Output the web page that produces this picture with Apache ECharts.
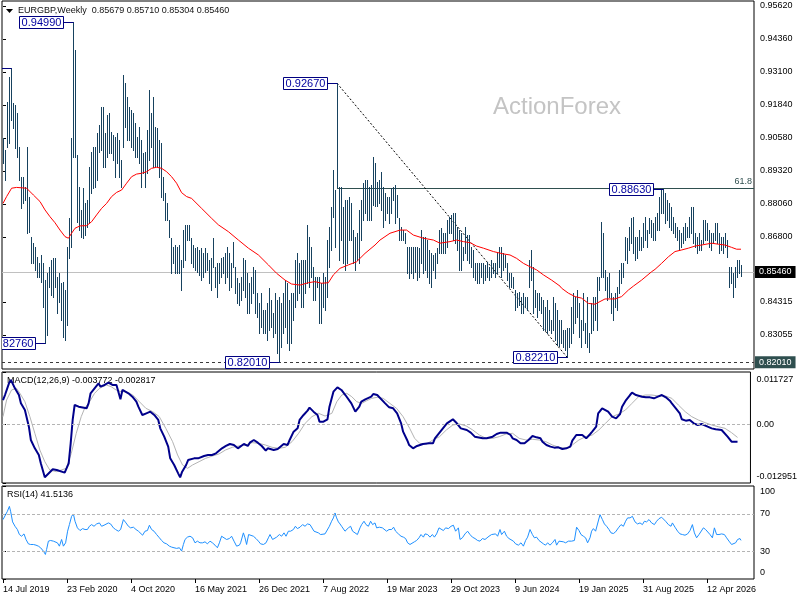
<!DOCTYPE html>
<html><head><meta charset="utf-8">
<script src="https://cdn.jsdelivr.net/npm/echarts@6/dist/echarts.min.js"></script>
<style>html,body{margin:0;padding:0;background:#fff;}#c{width:800px;height:600px;}</style>
</head><body><div id="c"></div>
<script>
// ---------- DATA ----------
const symbolTitle = 'EURGBP,Weekly';
const lastOHLC = [0.85679, 0.85710, 0.85304, 0.85460];
const dateIdx = [0, 32, 64, 96, 128, 160, 192, 224, 256, 288, 320, 352];
const dateLabels = ['14 Jul 2019','23 Feb 2020','4 Oct 2020','16 May 2021','26 Dec 2021','7 Aug 2022','19 Mar 2023','29 Oct 2023','9 Jun 2024','19 Jan 2025','31 Aug 2025','12 Apr 2026'];
const priceTicks = [0.9562, 0.9436, 0.9310, 0.9184, 0.9058, 0.8932, 0.8806, 0.8680, 0.84315, 0.83055];
const macdTickVals = [0.011727, 0, -0.012951];
const macdLabelPos = [0.0100, 0, -0.0116];
const macdLabelText = ['0.011727', '0.00', '-0.012951'];
const rsiTickVals = [100, 70, 30, 0];
const rsiLabelPos = [94, 70, 30, 7];
const rsiLabelText = ['100', '70', '30', '0'];

const barHigh = [
0.9058,0.9012,0.9195,0.9290,0.9325,0.9192,0.9184,0.9153,0.9023,0.8909,
0.8909,0.8871,0.9023,0.8832,0.8680,0.8657,0.8642,0.8603,0.8580,0.8611,
0.8580,0.8515,0.8542,0.8565,0.8592,0.8600,0.8600,0.8527,0.8542,0.8504,
0.8508,0.8477,0.8642,0.8752,0.9058,0.9499,0.9394,0.8993,0.8871,0.8783,
0.8867,0.8810,0.8821,0.8947,0.9004,0.9023,0.9023,0.9077,0.9107,0.9176,
0.9176,0.9077,0.9146,0.9153,0.9081,0.9069,0.9062,0.9077,0.9050,0.8974,
0.9298,0.9268,0.9214,0.9176,0.9165,0.9153,0.9115,0.9062,0.9100,0.9050,
0.9000,0.9004,0.9088,0.9241,0.9153,0.9214,0.9100,0.9096,0.9050,0.9039,
0.8909,0.8848,0.8810,0.8745,0.8676,0.8642,0.8649,0.8642,0.8649,0.8592,
0.8706,0.8726,0.8726,0.8726,0.8676,0.8649,0.8638,0.8642,0.8630,0.8638,
0.8619,0.8638,0.8619,0.8592,0.8600,0.8676,0.8565,0.8580,0.8580,0.8600,
0.8603,0.8619,0.8642,0.8619,0.8580,0.8661,0.8565,0.8523,0.8504,0.8527,
0.8600,0.8592,0.8542,0.8504,0.8527,0.8565,0.8554,0.8466,0.8427,0.8466,
0.8401,0.8401,0.8427,0.8485,0.8439,0.8389,0.8466,0.8439,0.8450,0.8427,
0.8466,0.8515,0.8504,0.8439,0.8466,0.8466,0.8592,0.8619,0.8580,0.8592,
0.8592,0.8592,0.8726,0.8680,0.8642,0.8565,0.8527,0.8527,0.8527,0.8504,
0.8542,0.8527,0.8668,0.8718,0.8794,0.8936,0.8859,0.9267,0.8871,0.8871,
0.8794,0.8821,0.8821,0.8832,0.8810,0.8706,0.8680,0.8695,0.8783,0.8821,
0.8886,0.8897,0.8897,0.8871,0.8878,0.8985,0.8963,0.8890,0.8897,0.8928,
0.8871,0.8848,0.8832,0.8832,0.8867,0.8871,0.8878,0.8840,0.8752,0.8718,
0.8706,0.8695,0.8642,0.8642,0.8642,0.8642,0.8642,0.8642,0.8638,0.8706,
0.8680,0.8680,0.8668,0.8630,0.8619,0.8611,0.8619,0.8638,0.8706,0.8714,
0.8695,0.8695,0.8745,0.8756,0.8764,0.8771,0.8771,0.8718,0.8706,0.8695,
0.8642,0.8718,0.8687,0.8687,0.8642,0.8630,0.8580,0.8580,0.8580,0.8580,
0.8580,0.8573,0.8584,0.8565,0.8592,0.8580,0.8580,0.8619,0.8642,0.8642,
0.8619,0.8611,0.8580,0.8542,0.8542,0.8527,0.8477,0.8466,0.8470,0.8450,
0.8466,0.8450,0.8450,0.8592,0.8630,0.8565,0.8477,0.8466,0.8466,0.8450,
0.8439,0.8412,0.8439,0.8401,0.8363,0.8450,0.8427,0.8401,0.8363,0.8363,
0.8324,0.8324,0.8332,0.8332,0.8412,0.8466,0.8450,0.8477,0.8427,0.8363,
0.8466,0.8351,0.8450,0.8313,0.8427,0.8450,0.8450,0.8527,0.8527,0.8738,
0.8695,0.8554,0.8527,0.8542,0.8466,0.8450,0.8466,0.8489,0.8554,0.8580,
0.8580,0.8680,0.8676,0.8718,0.8752,0.8756,0.8680,0.8680,0.8706,0.8680,
0.8733,0.8756,0.8706,0.8752,0.8745,0.8733,0.8756,0.8771,0.8832,0.8859,
0.8863,0.8848,0.8821,0.8810,0.8794,0.8756,0.8733,0.8718,0.8706,0.8695,
0.8718,0.8733,0.8718,0.8756,0.8794,0.8794,0.8695,0.8680,0.8695,0.8668,
0.8745,0.8745,0.8733,0.8706,0.8695,0.8695,0.8733,0.8733,0.8695,0.8680,
0.8680,0.8695,0.8668,0.8565,0.8565,0.8542,0.8565,0.8592,0.8592,0.8571];

const barLow = [
0.8963,0.8897,0.9023,0.9039,0.9127,0.9096,0.9020,0.8985,0.8897,0.8790,
0.8810,0.8821,0.8695,0.8698,0.8580,0.8580,0.8554,0.8527,0.8527,0.8508,
0.8412,0.8276,0.8305,0.8489,0.8458,0.8450,0.8489,0.8389,0.8431,0.8363,
0.8298,0.8286,0.8344,0.8600,0.8642,0.8985,0.8985,0.8737,0.8706,0.8680,
0.8676,0.8687,0.8718,0.8733,0.8848,0.8867,0.8871,0.8897,0.9004,0.9012,
0.8947,0.8947,0.8985,0.9000,0.9000,0.8974,0.8909,0.8963,0.8909,0.8871,
0.9023,0.9100,0.9050,0.9050,0.9023,0.9012,0.8985,0.8985,0.8963,0.8871,
0.8924,0.8871,0.8924,0.8974,0.9023,0.8947,0.8947,0.8947,0.8909,0.8832,
0.8821,0.8745,0.8745,0.8680,0.8542,0.8580,0.8542,0.8542,0.8542,0.8477,
0.8565,0.8592,0.8668,0.8668,0.8580,0.8565,0.8554,0.8546,0.8535,0.8515,
0.8527,0.8546,0.8554,0.8504,0.8477,0.8565,0.8489,0.8450,0.8504,0.8527,
0.8542,0.8504,0.8527,0.8477,0.8489,0.8565,0.8466,0.8427,0.8420,0.8439,
0.8477,0.8450,0.8389,0.8389,0.8427,0.8466,0.8389,0.8374,0.8313,0.8336,
0.8313,0.8313,0.8286,0.8324,0.8336,0.8298,0.8313,0.8237,0.8201,0.8260,
0.8313,0.8336,0.8275,0.8248,0.8275,0.8363,0.8412,0.8439,0.8466,0.8412,
0.8412,0.8466,0.8504,0.8489,0.8527,0.8439,0.8439,0.8489,0.8351,0.8351,
0.8412,0.8401,0.8450,0.8565,0.8630,0.8756,0.8642,0.8871,0.8592,0.8668,
0.8580,0.8554,0.8580,0.8668,0.8668,0.8580,0.8554,0.8592,0.8580,0.8668,
0.8745,0.8771,0.8745,0.8745,0.8745,0.8802,0.8798,0.8798,0.8810,0.8783,
0.8718,0.8745,0.8771,0.8733,0.8771,0.8821,0.8733,0.8756,0.8668,0.8668,
0.8668,0.8657,0.8542,0.8523,0.8542,0.8523,0.8546,0.8515,0.8527,0.8580,
0.8542,0.8554,0.8527,0.8504,0.8489,0.8554,0.8523,0.8580,0.8619,0.8619,
0.8619,0.8619,0.8642,0.8695,0.8695,0.8668,0.8657,0.8630,0.8554,0.8554,
0.8592,0.8619,0.8592,0.8580,0.8565,0.8527,0.8515,0.8504,0.8504,0.8527,
0.8504,0.8515,0.8527,0.8515,0.8527,0.8542,0.8527,0.8542,0.8565,0.8527,
0.8554,0.8565,0.8515,0.8489,0.8489,0.8485,0.8401,0.8412,0.8420,0.8389,
0.8389,0.8412,0.8401,0.8489,0.8515,0.8389,0.8412,0.8374,0.8401,0.8389,
0.8324,0.8324,0.8313,0.8324,0.8313,0.8324,0.8286,0.8267,0.8263,0.8275,
0.8260,0.8248,0.8221,0.8260,0.8275,0.8313,0.8351,0.8374,0.8298,0.8260,
0.8324,0.8275,0.8260,0.8240,0.8313,0.8324,0.8363,0.8324,0.8477,0.8527,
0.8527,0.8477,0.8439,0.8450,0.8389,0.8363,0.8412,0.8401,0.8466,0.8504,
0.8527,0.8592,0.8580,0.8630,0.8657,0.8619,0.8592,0.8600,0.8630,0.8630,
0.8642,0.8668,0.8642,0.8695,0.8680,0.8668,0.8668,0.8706,0.8706,0.8771,
0.8771,0.8733,0.8745,0.8718,0.8706,0.8695,0.8680,0.8668,0.8630,0.8642,
0.8657,0.8668,0.8680,0.8680,0.8695,0.8657,0.8642,0.8619,0.8630,0.8630,
0.8657,0.8668,0.8668,0.8642,0.8630,0.8657,0.8668,0.8657,0.8619,0.8630,
0.8619,0.8642,0.8603,0.8489,0.8504,0.8450,0.8489,0.8527,0.8542,0.8530];

// moving average (red): [bar, price]
const maPoints = [
[0,0.8808],[1.8,0.8834],[4.3,0.8866],[6.8,0.8869],[11.8,0.8866],[15.2,0.8840],[18.5,0.8815],[21,0.8783],[23.5,0.8757],[26,0.8734],
[28.5,0.8706],[31,0.8681],[32.7,0.8675],[34.3,0.8694],[36,0.8713],[38.5,0.8722],[41.8,0.8723],[44.3,0.8738],[46.8,0.8764],[49.3,0.8789],
[51.8,0.8808],[54.3,0.8834],[56.8,0.8850],[59.3,0.8859],[61.8,0.8885],[64.3,0.8910],[66.8,0.8920],[69.3,0.8923],[71.8,0.8929],[74.3,0.8942],
[76.8,0.8946],[79.3,0.8942],[81.8,0.8929],[84.3,0.8910],[86.8,0.8885],[89.3,0.8849],[91.8,0.8834],[94.3,0.8827],[99.3,0.8789],[104.3,0.8751],
[107.7,0.8726],[112.7,0.8700],[117.7,0.8668],[122.7,0.8637],[127.7,0.8611],[132.7,0.8573],[136.8,0.8541],[141,0.8515],[144.3,0.8500],[148.5,0.8496],
[152.7,0.8505],[156,0.8509],[159.3,0.8503],[162.7,0.8505],[165.2,0.8535],[168.5,0.8560],[172.7,0.8573],[176.8,0.8585],[181,0.8617],[183.5,0.8633],
[186,0.8649],[188.5,0.8668],[193.5,0.8694],[198.5,0.8706],[201.8,0.8706],[205.2,0.8687],[210.2,0.8675],[215.2,0.8668],[218.5,0.8656],[223.5,0.8662],
[226.8,0.8668],[230.2,0.8662],[233.5,0.8658],[236.8,0.8645],[240.2,0.8637],[245.2,0.8624],[250.2,0.8615],[253.5,0.8611],[256.8,0.8598],[260.2,0.8579],
[263.5,0.8566],[266.8,0.8554],[270.2,0.8535],[274.3,0.8515],[278.5,0.8492],[279.3,0.8484],[282.7,0.8465],[286,0.8452],[289.3,0.8446],[292.7,0.8426],
[296,0.8423],[298.5,0.8433],[301,0.8443],[306,0.8443],[309.3,0.8452],[312.7,0.8477],[315.2,0.8492],[319.3,0.8515],[324.3,0.8547],[326,0.8556],
[329.3,0.8579],[332.7,0.8604],[336,0.8624],[339.3,0.8630],[342.7,0.8637],[346,0.8645],[349.3,0.8649],[354.3,0.8656],[357.7,0.8652],[361,0.8649],
[364.3,0.8640],[366.8,0.8633],[369,0.8633]];

// MACD main (navy) and signal (silver): [bar, value]
const macdPoints = [
[0,0.00550],[1,0.00661],[3,0.00921],[4,0.00995],[6,0.00810],[8,0.00661],[9,0.00476],[11,0.00328],[13,-0.00043],[14,-0.00339],
[16,-0.00524],[18,-0.00672],[19,-0.00858],[21,-0.01169],[23,-0.01080],[25,-0.00991],[27,-0.01006],[28,-0.00969],[31,-0.01065],[33,-0.00858],
[34,-0.00413],[35,0.00106],[36,0.00439],[37,0.00476],[38,0.00402],[42,0.00365],[43,0.00476],[44,0.00699],[46,0.00810],[48,0.00921],
[49,0.00847],[51,0.00884],[53,0.00936],[55,0.00884],[56,0.00847],[57,0.00884],[59,0.00565],[60,0.00773],[61,0.00810],[63,0.00699],
[65,0.00624],[67,0.00513],[68,0.00402],[70,0.00217],[72,0.00254],[74,0.00291],[76,0.00217],[78,0.00106],[79,-0.00080],[81,-0.00265],
[83,-0.00487],[84,-0.00747],[86,-0.00895],[88,-0.01080],[89,-0.01169],[90,-0.01043],[92,-0.00895],[93,-0.00784],[96,-0.00747],[98,-0.00747],
[101,-0.00695],[103,-0.00672],[105,-0.00672],[107,-0.00635],[108,-0.00598],[110,-0.00524],[112,-0.00472],[114,-0.00428],[116,-0.00450],[118,-0.00524],
[121,-0.00428],[123,-0.00472],[124,-0.00398],[126,-0.00339],[128,-0.00398],[130,-0.00472],[132,-0.00576],[133,-0.00524],[136,-0.00561],[138,-0.00539],
[141,-0.00428],[143,-0.00450],[144,-0.00339],[146,-0.00154],[148,-0.00080],[149,0.00106],[151,0.00217],[153,0.00313],[154,0.00380],[156,0.00291],
[158,0.00217],[159,0.00069],[161,0.00069],[163,0.00121],[164,0.00402],[166,0.00736],[168,0.00832],[170,0.00773],[172,0.00661],[173,0.00624],
[175,0.00476],[177,0.00291],[179,0.00402],[180,0.00513],[182,0.00565],[183,0.00535],[185,0.00624],[186,0.00684],[188,0.00660],[189,0.00624],
[192,0.00476],[194,0.00387],[196,0.00365],[198,0.00254],[200,0.00032],[201,-0.00154],[203,-0.00339],[204,-0.00450],[206,-0.00524],[208,-0.00472],
[211,-0.00428],[212,-0.00398],[214,-0.00413],[216,-0.00413],[217,-0.00302],[219,-0.00191],[221,-0.00080],[223,0.00032],[226,0.00121],[227,0.00143],
[228,0.00032],[230,-0.00080],[231,-0.00058],[233,-0.00117],[235,-0.00176],[237,-0.00265],[238,-0.00302],[241,-0.00302],[243,-0.00302],[246,-0.00265],
[248,-0.00206],[250,-0.00176],[251,-0.00132],[253,-0.00176],[255,-0.00228],[256,-0.00302],[258,-0.00339],[260,-0.00413],[262,-0.00413],[264,-0.00339],
[266,-0.00250],[268,-0.00280],[270,-0.00302],[271,-0.00376],[273,-0.00450],[275,-0.00487],[277,-0.00509],[279,-0.00502],[281,-0.00539],[283,-0.00524],
[285,-0.00487],[286,-0.00354],[288,-0.00228],[291,-0.00228],[293,-0.00302],[295,-0.00206],[296,-0.00154],[298,-0.00043],[299,0.00254],[301,0.00365],
[302,0.00365],[304,0.00291],[306,0.00180],[308,0.00143],[310,0.00239],[311,0.00402],[313,0.00550],[315,0.00661],[316,0.00713],[318,0.00661],
[321,0.00624],[323,0.00609],[325,0.00609],[327,0.00587],[329,0.00624],[331,0.00661],[333,0.00609],[335,0.00535],[336,0.00476],[338,0.00365],
[340,0.00254],[341,0.00121],[343,0.00091],[345,0.00106],[346,0.00121],[347,0.00032],[349,-0.00005],[351,0.00017],[352,0.00032],[354,-0.00043],
[356,-0.00080],[358,-0.00102],[361,-0.00117],[362,-0.00154],[364,-0.00265],[366,-0.00376],[368,-0.00376],[369,-0.003772]];

const signalPoints = [
[0,0.00180],[1.8,0.00550],[4.3,0.00773],[6.8,0.00810],[8.5,0.00699],[11,0.00513],[13.5,0.00180],[16,-0.00191],[18.5,-0.00561],[21,-0.00821],
[23.5,-0.01006],[26.8,-0.01043],[29.3,-0.01006],[31.8,-0.00969],[34.3,-0.00635],[36.8,-0.00191],[39.3,0.00180],[41,0.00365],[43.5,0.00513],[46,0.00699],
[48.5,0.00810],[51.8,0.00884],[54.3,0.00847],[56.8,0.00773],[59.3,0.00736],[61.8,0.00736],[65.2,0.00661],[68.5,0.00513],[71.8,0.00365],[75.2,0.00291],
[78.5,0.00180],[81.8,-0.00080],[85.2,-0.00376],[87.7,-0.00672],[90.2,-0.00895],[92.7,-0.00969],[95.2,-0.00895],[98.5,-0.00821],[101.8,-0.00747],[105.2,-0.00695],
[108.5,-0.00650],[111.8,-0.00561],[115.2,-0.00502],[118.5,-0.00472],[121.8,-0.00450],[125.2,-0.00398],[128.5,-0.00413],[131.8,-0.00450],[135.2,-0.00502],[138.5,-0.00524],
[141.8,-0.00502],[145.2,-0.00376],[148.5,-0.00191],[151.8,0.00032],[155.2,0.00180],[158.5,0.00254],[161.8,0.00194],[165.2,0.00254],[167.7,0.00513],[170.2,0.00661],
[172.7,0.00699],[175.2,0.00624],[177.7,0.00513],[180.2,0.00476],[182.7,0.00535],[185.2,0.00587],[188,0.00610],[191,0.00587],[194.3,0.00476],[197.7,0.00365],
[201,0.00180],[204.3,-0.00080],[206.8,-0.00302],[209.3,-0.00413],[212.7,-0.00428],[216,-0.00339],[219.3,-0.00265],[222.7,-0.00117],[226,-0.00005],[229.3,0.00017],
[232.7,-0.00027],[236,-0.00117],[239.3,-0.00228],[242.7,-0.00302],[246,-0.00302],[249.3,-0.00265],[252.7,-0.00206],[256,-0.00191],[259.3,-0.00302],[262.7,-0.00339],
[266,-0.00324],[269.3,-0.00339],[272.7,-0.00376],[276,-0.00450],[279.3,-0.00502],[282.7,-0.00524],[286,-0.00450],[289.3,-0.00339],[292.7,-0.00265],[296,-0.00228],
[299.3,-0.00117],[302.7,0.00032],[306,0.00180],[309.3,0.00239],[312.7,0.00328],[316,0.00476],[319.3,0.00624],[322.7,0.00661],[326,0.00661],[329.3,0.00640],
[332.7,0.00640],[336,0.00587],[339.3,0.00439],[342.7,0.00291],[346,0.00180],[349.3,0.00106],[352.7,0.00047],[356,-0.00005],[359.3,-0.00043],[362.7,-0.00080],
[366,-0.00176],[369,-0.002817]];

// RSI(14): [bar, value]
const rsiPoints = [
[0,63.9],[1,65.7],[2.2,72.8],[3.2,78.1],[3.8,72.8],[4.8,61.4],[6,56.7],[7.2,53.2],[8.2,47.8],[9.3,46.0],[10.5,48.5],[11.5,42.5],[12.7,37.8],[13.8,37.1],
[15.2,37.1],[16.5,36.4],[17.7,35.3],[18.8,33.6],[20.2,30.0],[21.2,26.4],[21.8,31.8],[22.7,40.7],[23.8,41.4],[25.2,40.7],[26.2,41.4],[27.2,38.9],[28.2,35.3],
[29.3,42.5],[30.2,35.3],[31.3,38.9],[32.3,51.4],[33.2,58.5],[34.3,67.4],[35.2,69.9],[36,62.1],[37.2,55.0],[38.5,52.1],[39.8,54.2],[41,53.2],[42.2,53.2],
[43.2,56.7],[44.3,58.5],[45.5,56.7],[46.8,59.2],[48.2,60.3],[49.3,56.7],[50.5,57.8],[51.5,55.7],[52.7,60.3],[53.8,59.2],[55.2,55.0],[56.3,53.2],[57.7,51.4],
[58.8,53.2],[60.2,63.9],[61.5,60.3],[62.7,56.7],[63.8,55.0],[65.2,55.7],[66.5,53.2],[67.7,51.4],[68.5,49.6],[69.8,47.1],[71,51.4],[72.2,52.1],[73.2,57.8],
[74.3,53.2],[75.5,51.4],[76.8,47.8],[78.2,44.3],[79.3,41.4],[80.5,38.9],[81.8,37.8],[83.2,35.3],[84.3,34.3],[85.5,33.6],[86.8,32.9],[88.2,33.6],[89.3,30.0],
[90.2,37.1],[91,42.5],[92.2,45.0],[93.5,46.0],[94.8,44.3],[96,38.9],[97.2,40.7],[98.5,38.9],[99.8,38.9],[101,40.0],[102.2,37.8],[103.5,40.7],[104.7,38.9],
[106,36.4],[107.2,33.6],[108.2,38.9],[109.3,46.0],[110.5,44.3],[111.8,42.5],[113.2,43.5],[114.3,46.0],[115.5,40.7],[116.8,35.3],[118.2,36.4],[118.8,38.9],
[120.2,49.6],[121,44.3],[121.8,37.1],[122.8,47.8],[123.8,47.8],[125.2,46.0],[126.5,43.5],[127.7,40.7],[128.8,37.8],[130.2,37.1],[131.5,38.9],[132.7,44.3],
[133.5,47.8],[134.8,42.5],[135.5,44.3],[136.8,45.0],[138.2,47.8],[139.3,46.0],[140.5,49.6],[141.5,46.0],[142.7,51.4],[143.8,51.4],[145.2,53.2],[146.2,56.7],
[147.2,54.2],[148.5,55.7],[149.8,58.5],[151,56.7],[152.2,59.2],[153.5,58.5],[154.3,59.2],[155.5,51.4],[156.5,53.2],[157.7,49.6],[158.8,47.8],[159.8,46.0],
[161,48.5],[161.8,49.6],[163.2,56.7],[164.3,62.1],[165.2,65.7],[166,71.0],[166.8,65.7],[167.7,61.4],[168.5,59.2],[169.3,56.7],[170.2,58.5],[171,51.4],
[171.8,49.6],[172.7,55.0],[173.8,56.7],[174.8,51.4],[176,49.6],[177.2,47.8],[178.5,55.0],[179.3,58.5],[180.5,62.1],[181.5,58.5],[182.7,56.7],[183.8,62.1],
[184.8,58.5],[186,60.3],[186.8,55.0],[188.2,55.7],[189.7,55.0],[190.7,55.7],[191.8,51.4],[193,53.2],[194.3,53.2],[195.3,55.7],[196.3,51.4],[197.7,48.5],
[199,46.0],[200.2,45.0],[201.3,43.5],[202.3,38.9],[203.5,37.1],[204.3,36.1],[205.7,40.0],[206.8,41.4],[208,44.3],[209,47.8],[210.2,45.0],[211,48.5],
[212.3,47.8],[213.5,45.0],[214.7,47.8],[215.7,45.0],[216.8,48.5],[218,55.0],[219,53.2],[220.2,52.1],[221.3,55.0],[222.7,54.2],[224,56.7],[225.2,57.8],
[226.3,51.4],[227.7,55.0],[228.5,42.5],[229.7,44.3],[231,48.5],[232.3,51.4],[233.5,47.8],[234.7,45.0],[236,43.5],[237.3,41.4],[238.5,40.7],[239.7,43.5],
[241,42.5],[241.8,40.7],[243,46.0],[244.3,47.8],[245.2,46.0],[246.3,48.5],[247.3,46.0],[248.5,53.2],[249.3,47.8],[250.7,51.4],[251.8,46.0],[253,43.5],
[254,42.5],[255.2,40.7],[256.3,37.8],[257.7,36.4],[259,38.9],[260.2,35.3],[261.3,41.4],[262.3,45.0],[263.5,53.2],[264.7,47.8],[265.7,44.3],[266.8,45.0],
[268,41.4],[269,40.7],[270.2,37.8],[271.3,36.4],[272.3,38.9],[273.5,36.4],[274.7,38.9],[276,42.5],[276.8,36.4],[278,40.7],[279,38.9],[280.2,40.0],
[281.3,38.9],[282.7,40.7],[284.3,40.7],[285.7,41.4],[286.8,55.7],[288,52.1],[289,47.8],[290.2,46.0],[291.3,44.3],[292.3,38.9],[293.5,44.3],[294.3,51.4],
[295.2,54.2],[296.3,51.4],[297.3,53.2],[298.5,69.2],[299.7,63.9],[300.7,59.2],[301.8,56.7],[303,53.2],[304,49.6],[305.2,48.9],[306.3,50.7],[307.7,55.0],
[309,58.5],[310.2,56.7],[311.3,62.1],[312.3,65.7],[313.5,65.7],[314.7,67.4],[316,61.4],[317.3,59.2],[318.5,60.3],[319.7,58.5],[320.7,62.1],[321.8,61.4],
[323,63.9],[324.3,60.3],[325.7,58.5],[326.8,62.1],[328,64.9],[329.3,66.4],[330.3,67.4],[331.3,62.1],[332.7,58.5],[334,56.7],[334.7,60.3],[336,55.7],
[337.3,51.4],[338.5,48.5],[339.7,47.8],[341,47.1],[342.3,48.5],[343.5,52.1],[344.7,58.5],[345.7,49.6],[346.8,44.3],[348,47.8],[349,48.5],[350.2,55.0],
[351.3,53.2],[352.3,52.1],[353.5,47.8],[354.7,44.3],[355.7,55.0],[356.8,47.8],[358,47.8],[359.3,48.5],[360.7,47.8],[361.8,44.3],[363,40.7],[364.3,37.1],
[365.2,36.4],[366.3,38.9],[367.3,42.5],[368.5,43.5],[369,41.5136]];

// labelled highs / lows
const annIdx = [4, 35, 21, 167, 138, 282, 330];
const annPrice = [0.9325, 0.9499, 0.8276, 0.9267, 0.8201, 0.8221, 0.8863];
const lastPrice = 0.85460;
const supportLevel = 0.82010;
const fibHighIdx = 167, fibHigh = 0.9267, fibLowIdx = 282, fibLow = 0.8221, fibRatio = 0.618;
const macdLast = -0.003772, signalLast = -0.002817, rsiLast = 41.5136;

// ---------- CHART ----------
const FONT = '"Liberation Sans", Arial, sans-serif';
const BAR = '#17425f';
const fibLevel = fibLow + fibRatio * (fibHigh - fibLow);
const chart = echarts.init(document.getElementById('c'));

const xBase = {type:'value', min:-0.5, max:375.5, axisLine:{show:false}, axisTick:{show:false}, axisLabel:{show:false}, splitLine:{show:false}};
const gridBase = {left:2, width:752, show:true, borderColor:'#000', borderWidth:1, backgroundColor:'#fff'};
function lookup(v, pos, txt){ let b=0; for(let k=1;k<pos.length;k++){ if(Math.abs(pos[k]-v)<Math.abs(pos[b]-v)) b=k; } return txt[b]; }
const yLabel = {fontSize:9, fontFamily:FONT, color:'#000', margin:6};

const option = {
  animation:false,
  backgroundColor:'#fff',
  grid:[
    Object.assign({top:1, height:368}, gridBase),
    Object.assign({top:372, height:111}, gridBase),
    Object.assign({top:486, height:93}, gridBase)
  ],
  xAxis:[
    Object.assign({gridIndex:0}, xBase),
    Object.assign({gridIndex:1}, xBase),
    Object.assign({}, xBase, {gridIndex:2,
      axisTick:{show:true, customValues:dateIdx, length:4, lineStyle:{color:'#000'}},
      axisLabel:{show:true, customValues:dateIdx, formatter:v=>lookup(v, dateIdx, dateLabels), align:'left', margin:6, fontSize:9, fontFamily:FONT, color:'#000'}})
  ],
  yAxis:[
    {type:'value', gridIndex:0, position:'right', min:0.81754, max:0.95811, splitLine:{show:false}, axisLine:{show:false},
      axisTick:{show:true, customValues:priceTicks, length:3, lineStyle:{color:'#000'}},
      axisLabel:Object.assign({customValues:priceTicks, formatter:v=>v.toFixed(5)}, yLabel)},
    {type:'value', gridIndex:1, position:'right', min:-0.012951, max:0.011727, splitLine:{show:false}, axisLine:{show:false},
      axisTick:{show:true, customValues:macdTickVals, length:3, lineStyle:{color:'#000'}},
      axisLabel:Object.assign({customValues:macdLabelPos, formatter:v=>lookup(v, macdLabelPos, macdLabelText)}, yLabel)},
    {type:'value', gridIndex:2, position:'right', min:0, max:100, splitLine:{show:false}, axisLine:{show:false},
      axisTick:{show:true, customValues:rsiTickVals, length:3, lineStyle:{color:'#000'}},
      axisLabel:Object.assign({customValues:rsiLabelPos, formatter:v=>lookup(v, rsiLabelPos, rsiLabelText)}, yLabel)}
  ],
  series:[
    { // OHLC bars (high-low lines)
      type:'custom', xAxisIndex:0, yAxisIndex:0, clip:true, z:3,
      data: barHigh.map((h,i)=>[i, barLow[i], h]),
      encode:{x:0, y:[1,2]},
      renderItem:(params, api)=>{
        const lo = api.coord([api.value(0), api.value(1)]);
        const hi = api.coord([api.value(0), api.value(2)]);
        const top = Math.round(hi[1]), bot = Math.round(lo[1]);
        return {type:'rect', shape:{x:Math.round(lo[0]), y:top, width:1, height:Math.max(1, bot-top+1)}, style:{fill:BAR}};
      }
    },
    { // moving average + level lines
      type:'line', xAxisIndex:0, yAxisIndex:0, data:maPoints, showSymbol:false, clip:false, z:4,
      lineStyle:{color:'#ff0000', width:1}, silent:true,
      markLine:{silent:true, symbol:['none','none'], animation:false, z:2, precision:6,
        data:[
          {yAxis:lastPrice, lineStyle:{color:'#c0c0c0', type:'solid', width:1},
            label:{show:true, position:'end', distance:1, formatter:lastPrice.toFixed(5), backgroundColor:'#000', color:'#fff', padding:[2,4,1,4], fontSize:9, fontFamily:FONT}},
          {yAxis:supportLevel, lineStyle:{color:'#3a3a3a', type:[3,3], width:1},
            label:{show:true, position:'end', distance:1, formatter:supportLevel.toFixed(5), backgroundColor:'#2f4f4f', color:'#fff', padding:[2,4,1,4], fontSize:9, fontFamily:FONT}},
          [{coord:[fibHighIdx, fibLevel], lineStyle:{color:'#2f4f4f', type:'solid', width:1},
             label:{show:true, position:'insideEndTop', distance:2, formatter:(fibRatio*100).toFixed(1), color:'#2f4f4f', fontSize:9, fontFamily:FONT}},
           {coord:[375.5, fibLevel]}],
          [{coord:[fibHighIdx, fibHigh], lineStyle:{color:'#000', type:[2,2], width:1}, label:{show:false}},
           {coord:[fibLowIdx, fibLow]}]
        ]}
    },
    { // labelled highs / lows
      type:'custom', xAxisIndex:0, yAxisIndex:0, clip:true, z:6,
      data: annIdx.map((x,k)=>[x, annPrice[k]]),
      renderItem:(params, api)=>{
        const p = api.coord([api.value(0), api.value(1)]);
        const x = Math.round(p[0]) + 0.5, y = Math.round(p[1]) + 0.5;
        const w = 44, h = 12, gap = 10;
        const bx = Math.round(p[0]) - gap - w + 0.5;
        return {type:'group', children:[
          {type:'line', shape:{x1:bx+w, y1:y, x2:x, y2:y}, style:{stroke:'#000080', lineWidth:1}},
          {type:'rect', shape:{x:bx, y:y-6, width:w, height:h}, style:{fill:'#fff', stroke:'#000080', lineWidth:1}},
          {type:'text', x:bx+w/2, y:y+0.5, style:{text:annPrice[params.dataIndex].toFixed(5), fill:'#0000a0', font:'11px '+FONT, align:'center', verticalAlign:'middle'}}
        ]};
      }
    },
    { type:'line', xAxisIndex:1, yAxisIndex:1, data:signalPoints, showSymbol:false, silent:true, z:3,
      lineStyle:{color:'#b4b4b4', width:1},
      markLine:{silent:true, symbol:['none','none'], precision:6, label:{show:false}, lineStyle:{color:'#b4b4b4', type:[3,2], width:1}, data:[{yAxis:0}]}
    },
    { type:'line', xAxisIndex:1, yAxisIndex:1, data:macdPoints, showSymbol:false, silent:true, z:4,
      lineStyle:{color:'#00008b', width:2}
    },
    { type:'line', xAxisIndex:2, yAxisIndex:2, data:rsiPoints, showSymbol:false, silent:true, z:4,
      lineStyle:{color:'#1e90ff', width:1},
      markLine:{silent:true, symbol:['none','none'], label:{show:false}, lineStyle:{color:'#b4b4b4', type:[3,2], width:1}, data:[{yAxis:70},{yAxis:30}]}
    }
  ],
  graphic:{elements:[
    {type:'text', x:493, y:107, z:1, style:{text:'ActionForex', fill:'#c4c4c4', font:'24px '+FONT, verticalAlign:'middle'}},
    {type:'polygon', shape:{points:[[6,9],[13,9],[9.5,13]]}, style:{fill:'#000'}},
    {type:'text', x:18, y:11, style:{text:symbolTitle+'  '+lastOHLC.map(v=>v.toFixed(5)).join(' '), fill:'#111', font:'9px '+FONT, verticalAlign:'middle'}},
    {type:'text', x:7, y:381, style:{text:'MACD(12,26,9) '+macdLast.toFixed(6)+' '+signalLast.toFixed(6), fill:'#000', font:'9px '+FONT, verticalAlign:'middle'}},
    {type:'text', x:7, y:495, style:{text:'RSI(14) '+rsiLast.toFixed(4), fill:'#000', font:'9px '+FONT, verticalAlign:'middle'}}
  ]}
};
chart.setOption(option);
</script>
</body></html>
